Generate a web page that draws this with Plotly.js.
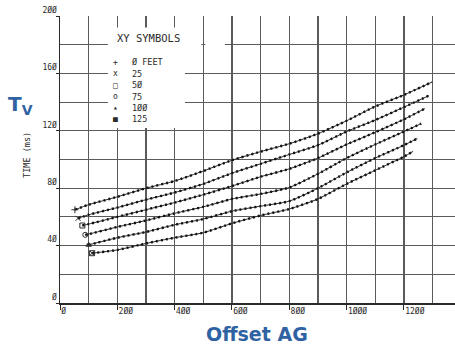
<!DOCTYPE html>
<html>
<head>
<meta charset="utf-8">
<script src="https://cdn.plot.ly/plotly-3.0.1.min.js"></script>
<style>html,body{margin:0;padding:0;background:#fff;}#chart{width:455px;height:347px;}</style>
</head>
<body>
<div id="chart"></div>
<script>
// Offset (feet) and time (ms) for each receiver depth
const names = ["0 FEET", "25", "50", "75", "100", "125"];
const x0 = [52, 100, 200, 300, 400, 500, 600, 700, 800, 900, 1000, 1100, 1200, 1298];
const t0 = [65, 68.5, 74, 80, 85, 92, 99.5, 105.5, 111, 118, 127, 137, 145, 154];
const x25 = [63, 100, 200, 300, 400, 500, 600, 700, 800, 900, 1000, 1100, 1200, 1287];
const t25 = [59, 61.5, 66.5, 72, 77, 83, 90.5, 97, 103.5, 110, 119.5, 127.5, 136.5, 144.5];
const x50 = [78, 100, 200, 300, 400, 500, 600, 700, 800, 900, 1000, 1100, 1200, 1273];
const t50 = [54, 55, 60, 65, 70, 75.5, 81.5, 88, 93.5, 101, 110.5, 119, 128, 135.5];
const x75 = [88, 100, 200, 300, 400, 500, 600, 700, 800, 900, 1000, 1100, 1200, 1260];
const t75 = [47.5, 48, 53, 57.5, 62.5, 67, 72.5, 76, 80.5, 90, 101, 110.5, 119.5, 125];
const x100 = [100, 200, 300, 400, 500, 600, 700, 800, 900, 1000, 1100, 1200, 1247];
const t100 = [40.5, 45.5, 49.5, 54.5, 58.5, 64, 67.5, 71, 80, 91, 101, 110, 114.7];
const x125 = [112, 200, 300, 400, 500, 600, 700, 800, 900, 1000, 1100, 1200, 1232];
const t125 = [34.7, 37, 41.5, 45.5, 49, 55.5, 61, 65.5, 72.5, 83, 92.5, 102, 105.7];

const xTickVals = [0, 200, 400, 600, 800, 1000, 1200];
const xTickText = ["Ø", "2ØØ", "4ØØ", "6ØØ", "8ØØ", "1ØØØ", "12ØØ"];
const yTickVals = [0, 40, 80, 120, 160, 200];
const yTickText = ["Ø", "4Ø", "8Ø", "12Ø", "16Ø", "2ØØ"];

const legendTitle = "XY SYMBOLS";
const legendSymbols = ["+", "x", "□", "o", "▴", "■"];
const legendLabels = ["Ø FEET", "25", "5Ø", "75", "1ØØ", "125"];

const startSymbols = ["cross-thin-open", "x-thin-open", "square-open", "circle-open", "triangle-up", "square-x-open"];

const series = [[x0, t0], [x25, t25], [x50, t50], [x75, t75], [x100, t100], [x125, t125]];
const ink = "#2a2a2a";
const mono = "DejaVu Sans Mono, Liberation Mono, monospace";
const blue = "#2f62a3";

const traces = [];
series.forEach(function (s, i) {
  traces.push({x: s[0], y: s[1], type: "scatter", mode: "lines", name: names[i],
    line: {color: ink, width: 1, shape: "spline", smoothing: 0.6}, showlegend: false, hoverinfo: "skip"});
  traces.push({x: s[0], y: s[1], type: "scatter", mode: "lines", name: names[i] + " dots",
    line: {color: "#111", width: 2.4, dash: "2px,3px", shape: "spline", smoothing: 0.6}, showlegend: false, hoverinfo: "skip"});
  traces.push({x: [s[0][0]], y: [s[1][0]], type: "scatter", mode: "markers", name: names[i] + " start",
    marker: {symbol: startSymbols[i], size: 5, color: ink, line: {color: ink, width: 1}}, showlegend: false});
});

const annotations = [];
annotations.push({x: 307, y: 185, xref: "x", yref: "y", text: legendTitle, showarrow: false,
  xanchor: "center", yanchor: "middle", font: {family: mono, size: 10.5, color: ink}});
legendLabels.forEach(function (lab, i) {
  const yy = 167.7 - i * 7.95;
  annotations.push({x: 192, y: yy, xref: "x", yref: "y", text: legendSymbols[i], showarrow: false,
    xanchor: "center", yanchor: "middle", font: {family: mono, size: 8, color: ink}});
  annotations.push({x: 244, y: yy, xref: "x", yref: "y", text: lab, showarrow: false, xanchor: "left",
    yanchor: "middle", font: {family: mono, size: 8.5, color: ink}});
});
annotations.push({x: -0.0835, y: 0.516, xref: "paper", yref: "paper", text: "TIME (ms)", textangle: -90,
  xanchor: "center", yanchor: "middle", showarrow: false, font: {family: mono, size: 8.5, color: ink}});
annotations.push({x: -0.1, y: 0.69, xref: "paper", yref: "paper", text: "<b>T<sub>V</sub></b>",
  xanchor: "center", yanchor: "middle", showarrow: false,
  font: {family: "DejaVu Sans, Verdana, sans-serif", size: 20, color: blue}});
annotations.push({x: 0.499, y: -0.108, xref: "paper", yref: "paper", text: "<b>Offset AG</b>",
  xanchor: "center", yanchor: "middle", showarrow: false,
  font: {family: "DejaVu Sans, Verdana, sans-serif", size: 19, color: blue}});

const grid = "#5a5a5a";
const layout = {
  width: 455, height: 347,
  margin: {l: 60, r: 0, t: 16, b: 44},
  paper_bgcolor: "#fff", plot_bgcolor: "#fff",
  showlegend: false,
  xaxis: {range: [0, 1378], tickvals: xTickVals, ticktext: xTickText, ticks: "outside", ticklen: 5,
    tickcolor: ink, tickwidth: 1, showgrid: true, gridcolor: grid, gridwidth: 1.1,
    minor: {dtick: 100, tick0: 0, showgrid: true, gridcolor: grid, gridwidth: 1.1, ticks: ""},
    showline: true, linecolor: ink, linewidth: 1.5, zeroline: false, ticklabelposition: "outside right",
    tickfont: {family: mono, size: 8, color: ink}, fixedrange: true},
  yaxis: {range: [0, 200], tickvals: yTickVals, ticktext: yTickText, ticks: "outside", ticklen: 3,
    tickcolor: ink, showgrid: true, gridcolor: grid, gridwidth: 1.1,
    minor: {dtick: 20, tick0: 0, showgrid: true, gridcolor: grid, gridwidth: 1.1, ticks: ""},
    showline: true, linecolor: ink, linewidth: 1.5, zeroline: false, ticklabelposition: "outside top",
    tickfont: {family: mono, size: 8, color: ink}, fixedrange: true},
  shapes: [
    {type: "rect", xref: "x", yref: "y", x0: 167, x1: 436, y0: 122, y1: 192, fillcolor: "#fff", line: {width: 0}, layer: "above"},
    {type: "rect", xref: "x", yref: "y", x0: 436, x1: 493, y0: 177.5, y1: 182.5, fillcolor: "#fff", line: {width: 0}, layer: "above"},
    {type: "rect", xref: "x", yref: "y", x0: 507, x1: 575, y0: 177.5, y1: 182.5, fillcolor: "#fff", line: {width: 0}, layer: "above"}
  ],
  annotations: annotations
};

Plotly.newPlot("chart", traces, layout, {displayModeBar: false, staticPlot: true});
</script>
</body>
</html>
